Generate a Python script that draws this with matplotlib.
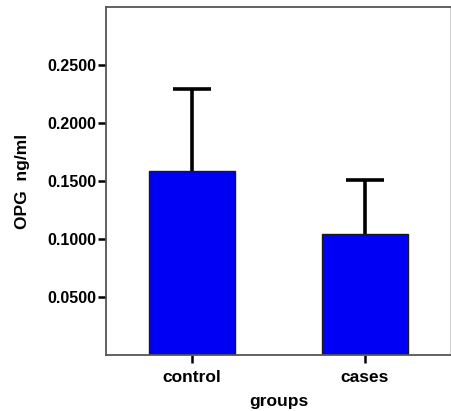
import numpy as np
import matplotlib
matplotlib.use("Agg")
import matplotlib.pyplot as plt

plt.rcParams['font.family'] = ['Liberation Sans', 'DejaVu Sans']
plt.rcParams['font.weight'] = 'bold'

# данные
groups = ['control', 'cases']
means = [0.159, 0.104]
errors = [0.070, 0.047]
yticks = [0.05, 0.10, 0.15, 0.20, 0.25]

fig = plt.figure(figsize=(4.52, 4.11), dpi=100)
ax = fig.add_axes([0.2345, 0.1363, 0.763, 0.8467])

x = np.arange(len(groups))
ax.bar(x, means, width=0.5, color='#0000f5', edgecolor='#1a1a1a', linewidth=1.0, zorder=2)

# только верхние "усы"
tops = np.array(means) + np.array(errors)
ax.vlines(x, means, tops, color='black', linewidth=2.6, zorder=3)
ax.hlines(tops, x - 0.11, x + 0.11, color='black', linewidth=2.6, zorder=3)

ax.set_xlim(-0.5, 1.5)
ax.set_ylim(0, 0.30)
ax.set_xticks(x)
ax.set_xticklabels(groups, fontsize=12.5, fontweight='bold')
ax.set_yticks(yticks)
ax.set_yticklabels([f'{v:.4f}' for v in yticks], fontsize=11.5, fontweight='bold')
ax.tick_params(axis='both', direction='out', length=6, width=1.8, color='black', pad=1)
ax.tick_params(axis='x', pad=5)

for s in ax.spines.values():
    s.set_color('#555555')
    s.set_linewidth(1.3)
ax.spines['right'].set_color('#cccccc')

ax.set_xlabel('groups', fontsize=12.5, fontweight='bold', labelpad=6)
ax.set_ylabel('OPG  ng/ml', fontsize=12.5, fontweight='bold', labelpad=12)

fig.savefig('out.png', dpi=100)
